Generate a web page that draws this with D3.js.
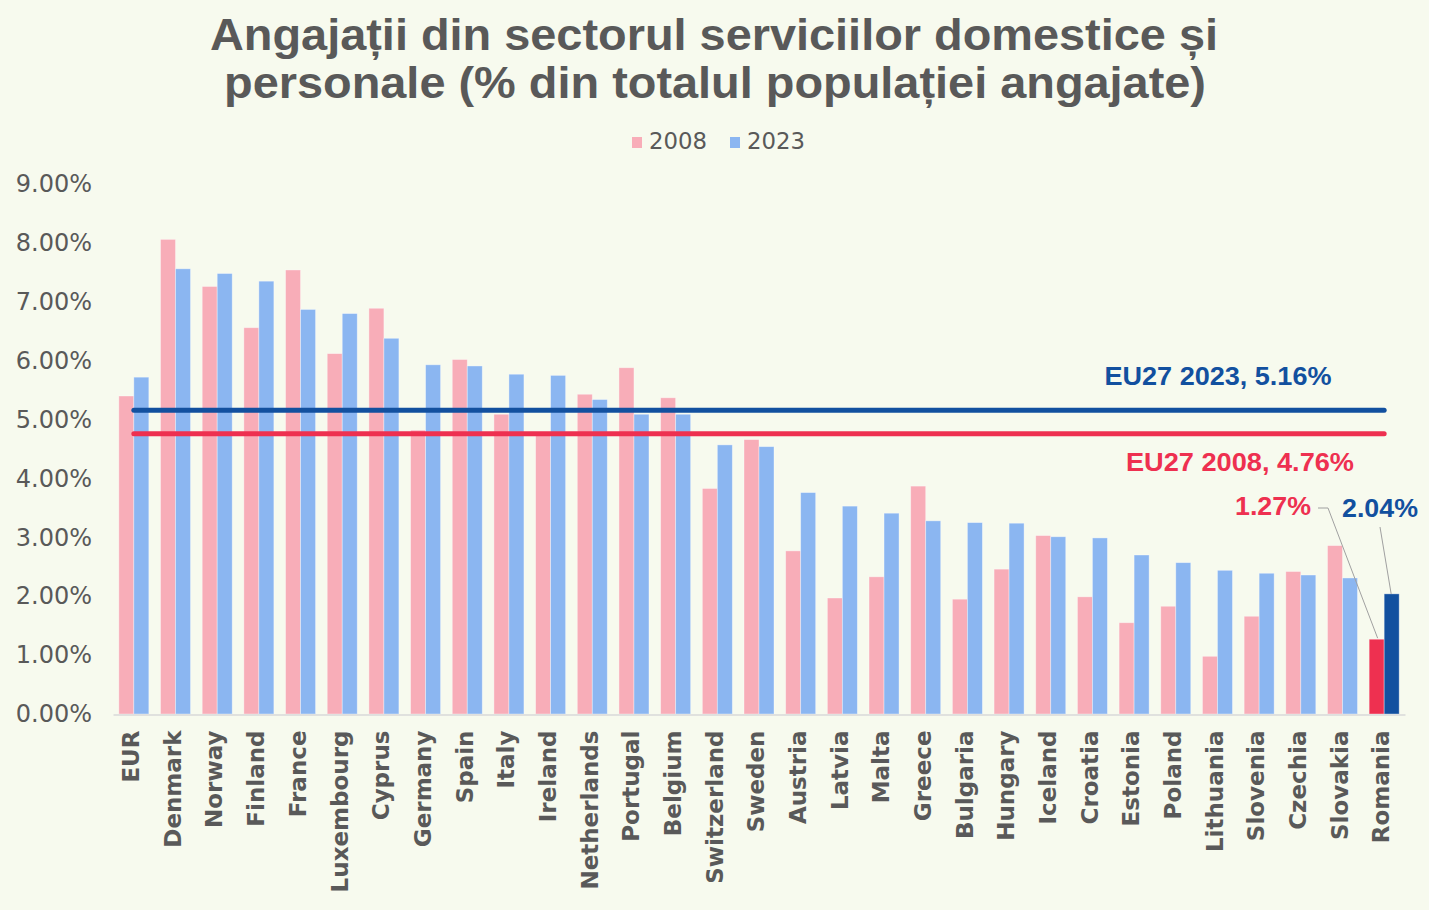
<!DOCTYPE html>
<html><head><meta charset="utf-8">
<script src="https://cdn.jsdelivr.net/npm/d3@7"></script>
<style>
html,body{margin:0;padding:0;background:#F7FAEE;}
svg{display:block;}
</style></head>
<body>
<svg id="chart" width="1429" height="910"></svg>
<script>
const categories = ["EUR","Denmark","Norway","Finland","France","Luxembourg","Cyprus","Germany","Spain","Italy","Ireland","Netherlands","Portugal","Belgium","Switzerland","Sweden","Austria","Latvia","Malta","Greece","Bulgaria","Hungary","Iceland","Croatia","Estonia","Poland","Lithuania","Slovenia","Czechia","Slovakia","Romania"];
const v2008 = [5.40,8.06,7.26,6.56,7.54,6.12,6.89,4.82,6.02,5.09,4.77,5.43,5.88,5.37,3.83,4.66,2.77,1.97,2.33,3.87,1.95,2.46,3.03,1.99,1.55,1.83,0.98,1.66,2.42,2.86,1.27];
const v2023 = [5.72,7.56,7.48,7.35,6.87,6.80,6.38,5.93,5.91,5.77,5.75,5.34,5.09,5.09,4.57,4.54,3.76,3.53,3.41,3.28,3.25,3.24,3.01,2.99,2.70,2.57,2.44,2.39,2.36,2.31,2.04];
const seriesNames = ["2008","2023"];
const yTicks = [0,1,2,3,4,5,6,7,8,9];
const eu2008 = 4.76, eu2023 = 5.16;
const highlight = "Romania";

const C = {pink:"#F8ADB8", blue:"#8BB6F1", red:"#EE3050", dblue:"#12509F", text:"#595959", axis:"#D9D9D9", leader:"#A0A0A0"};

const svg = d3.select("#chart");
svg.append("rect").attr("width",1429).attr("height",910).attr("fill","#F7FAEE");

const x = d3.scaleBand().domain(categories).range([113,1405]).paddingInner(0.28).paddingOuter(0.14);
const xs = d3.scaleBand().domain(seriesNames).range([0,x.bandwidth()]);
const y = d3.scaleLinear().domain([0,9]).range([714,184]);

// title
const title = svg.append("g").attr("font-family","'Liberation Sans', Arial, sans-serif").attr("font-weight","bold").attr("fill",C.text).attr("font-size",44).attr("text-anchor","middle");
title.append("text").attr("x",714).attr("y",50).attr("textLength",1008).attr("lengthAdjust","spacingAndGlyphs").text("Angajații din sectorul serviciilor domestice și");
title.append("text").attr("x",715).attr("y",98).attr("textLength",982).attr("lengthAdjust","spacingAndGlyphs").text("personale (% din totalul populației angajate)");

// legend
const leg = svg.append("g").attr("font-family","'DejaVu Sans', sans-serif").attr("font-size",23).attr("fill",C.text);
[[632,C.pink,"2008",649],[730,C.blue,"2023",747]].forEach(([sx,col,t,tx])=>{
  leg.append("rect").attr("x",sx).attr("y",137).attr("width",10).attr("height",11).attr("fill",col);
  leg.append("text").attr("x",tx).attr("y",149).attr("textLength",58).attr("lengthAdjust","spacingAndGlyphs").text(t);
});

// y axis labels
const ya = svg.append("g").attr("transform","translate(92,0)")
  .call(d3.axisLeft(y).tickValues(yTicks).tickSize(0).tickPadding(0).tickFormat(d=>d.toFixed(2)+"%"));
ya.select(".domain").remove();
ya.selectAll("text").attr("font-family","'DejaVu Sans', sans-serif").attr("font-size",24).attr("fill",C.text);

// bars
const g = svg.append("g");
categories.forEach((c,i)=>{
  const hl = c===highlight;
  [[v2008[i],"2008",hl?C.red:C.pink],[v2023[i],"2023",hl?C.dblue:C.blue]].forEach(([v,s,col])=>{
    g.append("rect").attr("x",x(c)+xs(s)).attr("y",y(v)).attr("width",xs.bandwidth()).attr("height",y(0)-y(v))
      .attr("fill",col).attr("stroke","rgba(255,255,255,0.45)").attr("stroke-width",0.8);
  });
});

// x axis
const xa = svg.append("g").attr("transform","translate(0,714.5)").call(d3.axisBottom(x).tickSize(0).tickPadding(0));
xa.select(".domain").attr("stroke",C.axis).attr("stroke-width",1.5);
xa.selectAll("text").attr("font-family","'DejaVu Sans', sans-serif").attr("font-weight","bold").attr("font-size",23).attr("fill",C.text)
  .attr("text-anchor","end").attr("transform","translate(0,16) rotate(-90)").attr("dy","0.23em").attr("y",0).attr("x",0);

// reference lines
const x0 = x(categories[0])+x.bandwidth()/2, x1 = x(categories[categories.length-1])+x.bandwidth()/2;
svg.append("line").attr("x1",x0).attr("x2",x1).attr("y1",y(eu2023)).attr("y2",y(eu2023)).attr("stroke",C.dblue).attr("stroke-width",5).attr("stroke-linecap","round");
svg.append("line").attr("x1",x0).attr("x2",x1).attr("y1",y(eu2008)).attr("y2",y(eu2008)).attr("stroke",C.red).attr("stroke-width",5).attr("stroke-linecap","round");

// annotations
const ann = svg.append("g").attr("font-family","'Liberation Sans', Arial, sans-serif").attr("font-weight","bold").attr("font-size",26);
ann.append("text").attr("x",1218).attr("y",385).attr("text-anchor","middle").attr("fill",C.dblue).attr("textLength",227).attr("lengthAdjust","spacingAndGlyphs").text("EU27 2023, "+eu2023.toFixed(2)+"%");
ann.append("text").attr("x",1240).attr("y",471).attr("text-anchor","middle").attr("fill",C.red).attr("textLength",228).attr("lengthAdjust","spacingAndGlyphs").text("EU27 2008, "+eu2008.toFixed(2)+"%");
const ri = categories.indexOf(highlight);
ann.append("text").attr("x",1311).attr("y",515).attr("text-anchor","end").attr("fill",C.red).attr("textLength",76).attr("lengthAdjust","spacingAndGlyphs").text(v2008[ri].toFixed(2)+"%");
ann.append("text").attr("x",1342).attr("y",517).attr("text-anchor","start").attr("fill",C.dblue).attr("textLength",76).attr("lengthAdjust","spacingAndGlyphs").text(v2023[ri].toFixed(2)+"%");

const rx = x(highlight);
svg.append("polyline").attr("points",[[1318,508],[1328,508],[rx+xs("2008")+xs.bandwidth()/2+1,y(v2008[ri])-1]].map(p=>p.join(",")).join(" "))
  .attr("fill","none").attr("stroke",C.leader).attr("stroke-width",1);
svg.append("line").attr("x1",1380).attr("y1",527).attr("x2",rx+xs("2023")+xs.bandwidth()/2-0.5).attr("y2",y(v2023[ri])).attr("stroke",C.leader).attr("stroke-width",1);
</script>
</body></html>
